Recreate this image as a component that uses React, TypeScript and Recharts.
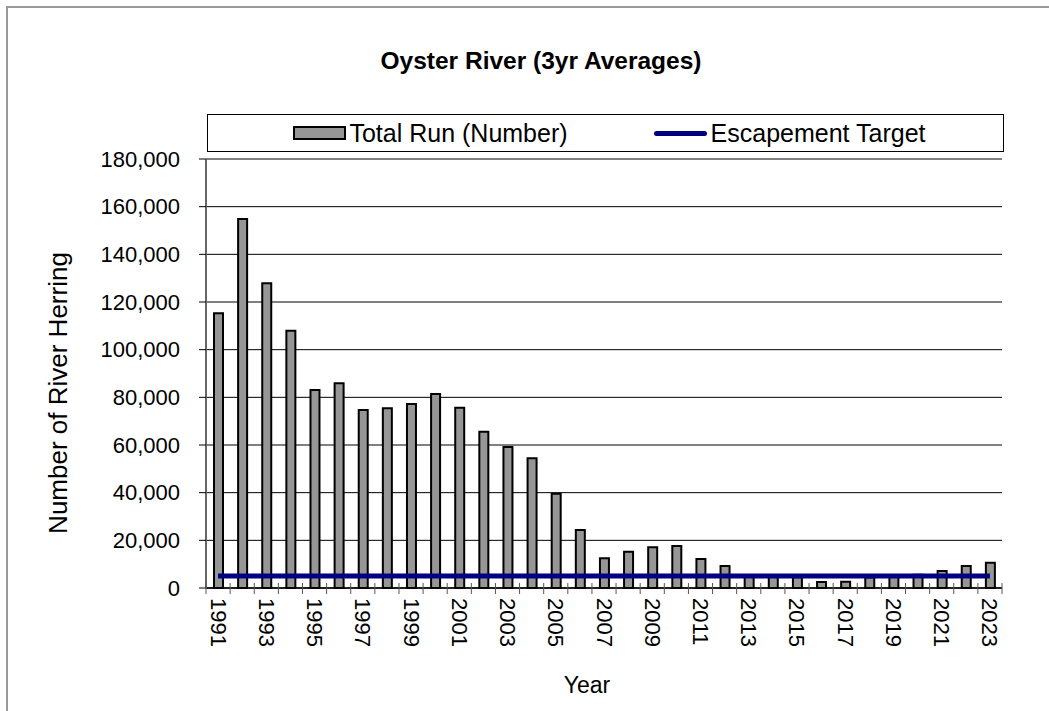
import React from "react";
import { Bar, CartesianGrid, ComposedChart, Legend, Line, XAxis, YAxis } from "recharts";

const years = [
  "1991", "1992", "1993", "1994", "1995", "1996", "1997", "1998", "1999", "2000", "2001",
  "2002", "2003", "2004", "2005", "2006", "2007", "2008", "2009", "2010", "2011", "2012",
  "2013", "2014", "2015", "2016", "2017", "2018", "2019", "2020", "2021", "2022", "2023",
];

const totalRun = [
  115300, 154800, 127900, 107900, 83100, 85900, 74700, 75400, 77200, 81400, 75600,
  65600, 59200, 54400, 39500, 24300, 12500, 15200, 17100, 17600, 12200, 9200,
  4600, 4600, 4500, 2500, 2600, 4400, 4600, 5600, 7100, 9200, 10600,
];

const escapementTarget = [
  5000, 5000, 5000, 5000, 5000, 5000, 5000, 5000, 5000, 5000, 5000,
  5000, 5000, 5000, 5000, 5000, 5000, 5000, 5000, 5000, 5000, 5000,
  5000, 5000, 5000, 5000, 5000, 5000, 5000, 5000, 5000, 5000, 5000,
];

const yTicks = [0, 20000, 40000, 60000, 80000, 100000, 120000, 140000, 160000, 180000];

const data = years.map((year, i) => ({
  year,
  total: totalRun[i],
  target: escapementTarget[i],
}));

const FONT = "'Liberation Sans', Arial, Helvetica, sans-serif";
const W = 1049;
const H = 711;
const M = { top: 159, right: 47, left: 0, bottom: 0 };
const Y_AXIS_W = 206;
const X_AXIS_H = 123;
const BAND = (W - M.left - M.right - Y_AXIS_W) / years.length;

function YearTick(props: any) {
  const { x, y, payload } = props;
  const index = props.index ?? payload?.index ?? 0;
  const half = BAND / 2;
  const last = index === years.length - 1;
  const ty = y + 10;
  return (
    <g>
      <line x1={x - half} x2={x - half} y1={y - 5} y2={y + 6} stroke="#555" />
      {last ? <line x1={x + half} x2={x + half} y1={y - 5} y2={y + 6} stroke="#555" /> : null}
      {index % 2 === 0 ? (
        <text
          x={x}
          y={ty}
          transform={`rotate(90 ${x} ${ty})`}
          textAnchor="start"
          dominantBaseline="central"
          fontSize={22}
          fontFamily={FONT}
          fill="#000"
        >
          {payload.value}
        </text>
      ) : null}
    </g>
  );
}

function LegendBox() {
  return (
    <div
      style={{
        boxSizing: "border-box",
        width: "100%",
        height: "100%",
        border: "1px solid #000",
        background: "#fff",
        display: "flex",
        alignItems: "center",
        justifyContent: "center",
        gap: 86,
        fontFamily: FONT,
        fontSize: 25,
        color: "#000",
        paddingLeft: 8,
      }}
    >
      <div style={{ display: "flex", alignItems: "center" }}>
        <span
          style={{
            display: "inline-block",
            boxSizing: "border-box",
            width: 53,
            height: 14,
            background: "#969696",
            border: "2px solid #000",
            marginRight: 3,
          }}
        />
        <span>Total Run (Number)</span>
      </div>
      <div style={{ display: "flex", alignItems: "center" }}>
        <span
          style={{
            display: "inline-block",
            width: 53,
            height: 5,
            borderRadius: 3,
            background: "#000080",
            marginRight: 4,
          }}
        />
        <span>Escapement Target</span>
      </div>
    </div>
  );
}

export default function App() {
  return (
    <div style={{ position: "relative", width: W, height: H, overflow: "hidden", background: "#fff" }}>
      <style>{"body{margin:0;overflow:hidden;}"}</style>
      <div
        style={{
          position: "absolute",
          left: 6,
          top: 6,
          width: W,
          height: H,
          borderLeft: "2px solid #999",
          borderTop: "2px solid #999",
        }}
      />
      <div
        style={{
          position: "absolute",
          left: 0,
          width: 1082,
          top: 47,
          textAlign: "center",
          fontFamily: FONT,
          fontWeight: "bold",
          fontSize: 24.5,
          color: "#000",
        }}
      >
        Oyster River (3yr Averages)
      </div>
      <div
        style={{
          position: "absolute",
          left: 58,
          top: 393,
          transform: "translate(-50%, -50%) rotate(-90deg)",
          whiteSpace: "nowrap",
          fontFamily: FONT,
          fontSize: 26,
          color: "#000",
        }}
      >
        Number of River Herring
      </div>
      <div
        style={{
          position: "absolute",
          left: 587,
          top: 685,
          transform: "translate(-50%, -50%)",
          fontFamily: FONT,
          fontSize: 23,
          color: "#000",
        }}
      >
        Year
      </div>
      <div style={{ position: "absolute", left: 0, top: 0 }}>
        <ComposedChart width={W} height={H} data={data} margin={M}>
          <CartesianGrid vertical={false} stroke="#000" strokeWidth={1} />
          <XAxis
            dataKey="year"
            type="category"
            height={X_AXIS_H}
            interval={0}
            tickSize={0}
            tickMargin={0}
            tickLine={false}
            axisLine={{ stroke: "#000", strokeWidth: 1.5 }}
            tick={<YearTick />}
          />
          <XAxis
            xAxisId="top"
            orientation="top"
            height={0}
            tick={false}
            tickLine={false}
            axisLine={{ stroke: "#888", strokeWidth: 2 }}
          />
          <YAxis
            domain={[0, 180000]}
            ticks={yTicks}
            interval={0}
            width={Y_AXIS_W}
            tickSize={7}
            tickMargin={19}
            tickLine={{ stroke: "#000" }}
            axisLine={{ stroke: "#666", strokeWidth: 2 }}
            tick={{ fontSize: 22, fill: "#000", fontFamily: FONT }}
            tickFormatter={(v: number) => v.toLocaleString("en-US")}
          />
          <YAxis
            yAxisId="right"
            orientation="right"
            width={0}
            domain={[0, 1]}
            tick={false}
            tickLine={false}
            axisLine={{ stroke: "#888", strokeWidth: 2 }}
          />
          <Legend
            layout="horizontal"
            verticalAlign="middle"
            align="center"
            wrapperStyle={{ left: 207, top: 114, width: 797, height: 38 }}
            content={() => <LegendBox />}
          />
          <Bar
            dataKey="total"
            name="Total Run (Number)"
            fill="#969696"
            stroke="#000"
            strokeWidth={2}
            barSize={9}
            isAnimationActive={false}
          />
          <Line
            dataKey="target"
            name="Escapement Target"
            type="linear"
            stroke="#000080"
            strokeWidth={5}
            dot={false}
            activeDot={false}
            isAnimationActive={false}
          />
        </ComposedChart>
      </div>
    </div>
  );
}
